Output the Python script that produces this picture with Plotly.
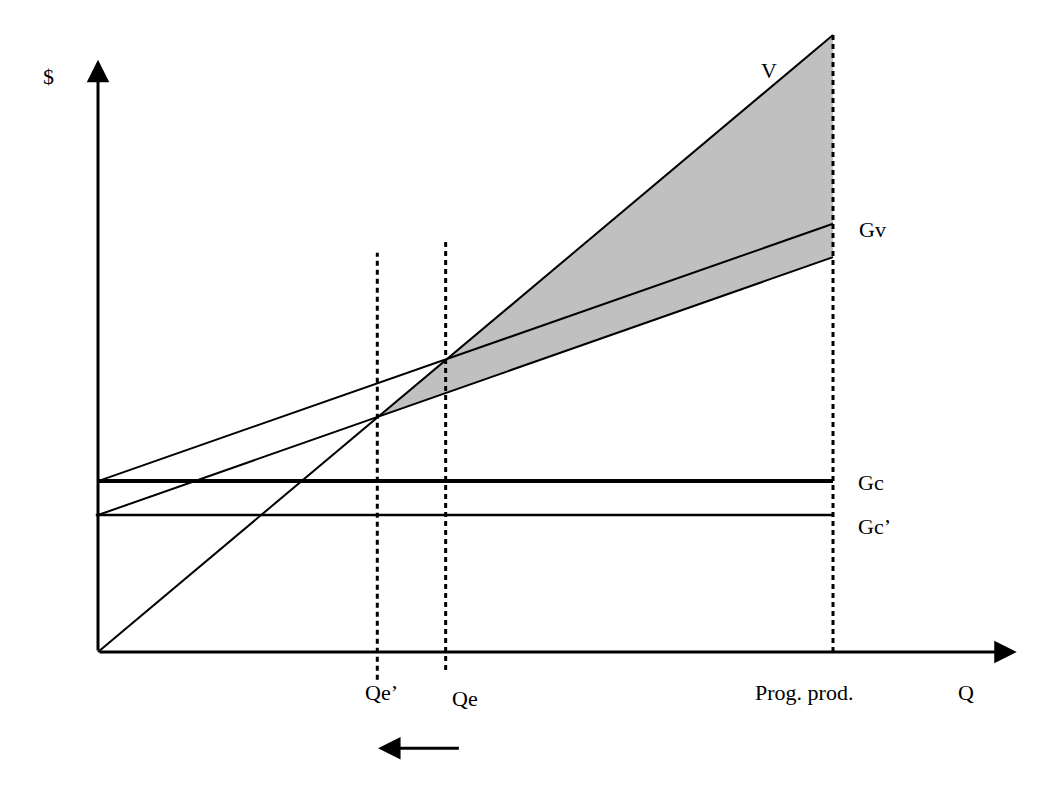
import plotly.graph_objects as go

# ---- data (arbitrary units: Q on x, $ on y) ----
q_line = [0, 10]                 # from origin to programmed production
ventas = [0, 100]                # V  (revenue)
gasto_total = [27.7, 69.4]       # Gv (total cost with Gc)
gasto_total_prima = [22.2, 64.0] # total cost with Gc'
gasto_fijo = [27.7, 27.7]        # Gc
gasto_fijo_prima = [22.2, 22.2]  # Gc'
q_equilibrio = 4.73              # Qe
q_equilibrio_prima = 3.80        # Qe'
q_prog = 10                      # Prog. prod.
v_at_qe_prima = 38.0
dot_qe_prima_y = [-4.5, 64.7]
dot_qe_y = [-2.9, 67.1]
dot_prog_y = [0, 100]
x_axis_end = 12.5
y_axis_end = 96
arrow_q = [4.93, 3.81]
arrow_y = -15.6

labels = ["$", "V", "Gv", "Gc", "Gc\u2019", "Qe\u2019", "Qe", "Prog. prod.", "Q"]
label_q = [-0.667, 9.13, 10.54, 10.52, 10.57, 3.86, 4.99, 9.6, 11.81]
label_y = [93.2, 94.3, 68.4, 27.4, 20.3, -6.6, -7.5, -6.6, -6.6]

# shaded area between V and the lower cost line
shade_q = [q_equilibrio_prima, q_prog, q_prog]
shade_y = [v_at_qe_prima, ventas[1], gasto_total_prima[1]]

fig = go.Figure()

fig.add_trace(go.Scatter(x=shade_q, y=shade_y, fill="toself", fillcolor="#c0c0c0",
                         line=dict(width=0), mode="lines", hoverinfo="skip"))

dot = dict(color="black", width=3, dash="5px,4px")
fig.add_trace(go.Scatter(x=[q_equilibrio_prima]*2, y=dot_qe_prima_y, mode="lines", line=dot))
fig.add_trace(go.Scatter(x=[q_equilibrio]*2, y=dot_qe_y, mode="lines", line=dot))
fig.add_trace(go.Scatter(x=[q_prog]*2, y=dot_prog_y, mode="lines", line=dot))

fig.add_trace(go.Scatter(x=q_line, y=ventas, mode="lines", line=dict(color="black", width=2)))
fig.add_trace(go.Scatter(x=q_line, y=gasto_total, mode="lines", line=dict(color="black", width=2)))
fig.add_trace(go.Scatter(x=q_line, y=gasto_total_prima, mode="lines", line=dict(color="black", width=2)))
fig.add_trace(go.Scatter(x=q_line, y=gasto_fijo, mode="lines", line=dict(color="black", width=4)))
fig.add_trace(go.Scatter(x=[-0.03, q_prog], y=gasto_fijo_prima, mode="lines", line=dict(color="black", width=2.5)))

# axes with arrowheads
annots = []
arrow_style = dict(showarrow=True, arrowhead=2, arrowsize=1.5, arrowwidth=3, arrowcolor="black", text="",
                   xref="x", yref="y", axref="x", ayref="y")
annots.append(dict(x=0, y=y_axis_end, ax=0, ay=0, **arrow_style))
annots.append(dict(x=x_axis_end, y=0, ax=0, ay=0, **arrow_style))
annots.append(dict(x=arrow_q[1], y=arrow_y, ax=arrow_q[0], ay=arrow_y, **arrow_style))

for t, qx, yy in zip(labels, label_q, label_y):
    annots.append(dict(x=qx, y=yy, xref="x", yref="y", text=t, showarrow=False,
                       font=dict(family="Liberation Serif", size=22, color="black"),
                       xanchor="center", yanchor="middle"))

# page has an 8px body margin: the figure starts at page pixel 8
off = 8
fig.update_layout(
    width=1060 - off, height=797 - off,
    margin=dict(l=0, r=0, t=0, b=0),
    paper_bgcolor="white", plot_bgcolor="white",
    showlegend=False,
    xaxis=dict(range=[(off - 98) / 73.5, (1060 - 98) / 73.5], visible=False, fixedrange=True),
    yaxis=dict(range=[-(797 - 652) / 6.17, (652 - off) / 6.17], visible=False, fixedrange=True),
    annotations=annots,
)

fig.write_html("out.html")
